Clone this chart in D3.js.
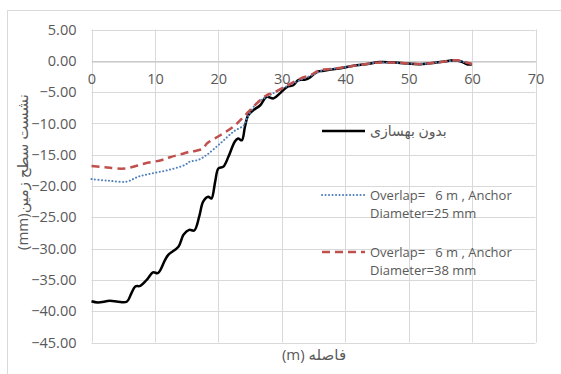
<!DOCTYPE html>
<html>
<head>
<meta charset="utf-8">
<script src="https://cdn.jsdelivr.net/npm/d3@7"></script>
<style>
  html, body { margin: 0; padding: 0; background: #fff; }
  svg { display: block; }
  text { font-family: "Open Sans", "DejaVu Sans", sans-serif; fill: #595959; white-space: pre; }
</style>
</head>
<body>
<svg id="chart" width="561" height="374"></svg>
<script>
// Settlement profiles: distance from wall (m) vs. ground surface settlement (mm)
const noImproveX = [0, 1, 2.9, 4.2, 5.6, 6.3, 6.9, 7.7, 8.7, 9.7, 10.5, 11.6, 12.1, 13.7, 14.5, 15.4, 16.2, 17.0, 17.6, 18.4, 18.9, 19.5, 20.0, 20.8, 21.6, 22.6, 23.1, 23.7, 24.2, 24.7, 25.5, 26.6, 27.6, 28.7, 29.7, 30.8, 31.8, 32.6, 33.7, 34.5, 35.5, 36.6, 38.1, 39.7, 41.8, 43.5, 45.5, 48.7, 51.8, 55, 57.3, 58.4, 59.2, 60];
const noImproveY = [-38.4, -38.6, -38.35, -38.5, -38.45, -37.1, -36.05, -35.95, -35.0, -33.8, -33.9, -31.8, -31.0, -29.7, -27.8, -27.0, -27.1, -24.8, -22.5, -21.7, -22.0, -19.3, -17.2, -16.9, -15.3, -12.9, -12.4, -12.7, -10.5, -8.7, -7.9, -7.1, -5.75, -6.0, -5.2, -4.2, -3.9, -3.1, -3.0, -2.6, -1.8, -1.6, -1.35, -1.1, -0.7, -0.5, -0.2, -0.35, -0.55, -0.2, 0.1, -0.15, -0.55, -0.55];

const d25X = [0, 2.65, 5.55, 7.4, 9.5, 12.1, 14.7, 15.5, 16.8, 18.2, 20.3, 22.4, 24, 24.6, 26, 27.6, 29, 30.5, 32, 33.5, 35, 36.5, 38, 40, 42, 45, 48, 52, 55, 57.5, 58.5, 60];
const d25Y = [-18.9, -19.15, -19.3, -18.5, -18.0, -17.45, -16.65, -16.1, -15.85, -15.0, -13.2, -11.3, -10.3, -9.0, -6.8, -5.75, -5.0, -4.2, -3.5, -2.8, -2.2, -1.5, -1.3, -1.0, -0.7, -0.3, -0.35, -0.5, -0.2, 0.0, -0.15, -0.5];

const d38X = [0, 2.1, 5.3, 8.4, 11.1, 12.4, 14.2, 15.5, 16.3, 17.6, 18.2, 20.3, 22.4, 24, 25.5, 27.6, 28.5, 30, 31.5, 33, 34.5, 36, 38, 40, 42, 45, 48, 52, 55, 57.5, 58.5, 60];
const d38Y = [-16.8, -17.0, -17.2, -16.4, -15.85, -15.4, -14.9, -14.5, -14.4, -14.0, -13.2, -11.9, -10.5, -8.95, -7.35, -5.5, -5.2, -4.4, -3.6, -2.8, -2.3, -1.5, -1.3, -1.0, -0.7, -0.3, -0.3, -0.5, -0.2, 0.1, -0.1, -0.5];

const xTicks = [0, 10, 20, 30, 40, 50, 60, 70];
const yTicks = [5, 0, -5, -10, -15, -20, -25, -30, -35, -40, -45];

const seriesNames = [
  ["بدون بهسازی"],
  ["Overlap=   6 m , Anchor", "Diameter=25 mm"],
  ["Overlap=   6 m , Anchor", "Diameter=38 mm"]
];
const xTitle = "(m) فاصله";
const yTitle = "(mm)نشست سطح زمین";

const series = [
  { name: seriesNames[0], xs: noImproveX, ys: noImproveY, color: "#000000", width: 2.5, dash: null, cap: "butt" },
  { name: seriesNames[1], xs: d25X, ys: d25Y, color: "#4f81bd", width: 2, dash: "0.1 3.4", cap: "round" },
  { name: seriesNames[2], xs: d38X, ys: d38Y, color: "#c0504d", width: 2.5, dash: "8 5", cap: "butt" }
];

const svg = d3.select("#chart");

// chart area border
svg.append("rect")
  .attr("x", 7.5).attr("y", 10.5)
  .attr("width", 560).attr("height", 370)
  .attr("fill", "#fff").attr("stroke", "#d9d9d9").attr("stroke-width", 1);

const x = d3.scaleLinear().domain([0, 70]).range([91.5, 535.5]);
const y = d3.scaleLinear().domain([5, -45]).range([29.5, 342.5]);

// gridlines
const grid = svg.append("g");
grid.selectAll("line.h").data(yTicks).join("line")
  .attr("x1", x(0)).attr("x2", x(70))
  .attr("y1", d => Math.round(y(d)) + 0.5).attr("y2", d => Math.round(y(d)) + 0.5)
  .attr("stroke", "#d9d9d9").attr("stroke-width", 1);
grid.selectAll("line.v").data(xTicks).join("line")
  .attr("x1", d => Math.round(x(d)) + 0.5).attr("x2", d => Math.round(x(d)) + 0.5)
  .attr("y1", y(5)).attr("y2", y(-45))
  .attr("stroke", "#d9d9d9").attr("stroke-width", 1);

// x axis sits on the zero line, labels below it
const xAxis = d3.axisBottom(x).tickValues(xTicks).tickSize(0).tickPadding(12).tickFormat(d3.format("d"));
const gx = svg.append("g").attr("transform", `translate(0,${Math.round(y(0)) + 0.5})`).call(xAxis);
gx.select(".domain").attr("stroke", "#bfbfbf");
gx.selectAll("text").style("font-size", "14.5px").attr("fill", "#595959");

// y axis labels
const yAxis = d3.axisLeft(y).tickValues(yTicks).tickSize(0).tickPadding(15).tickFormat(d3.format(".2f"));
const gy = svg.append("g").attr("transform", `translate(${x(0)},0)`).call(yAxis);
gy.select(".domain").remove();
gy.selectAll("text").style("font-size", "14.5px").attr("fill", "#595959");

// series lines
const line = d3.line().x(d => x(d[0])).y(d => y(d[1])).curve(d3.curveCatmullRom.alpha(0.5));
series.forEach(s => {
  const pts = s.xs.map((v, i) => [v, s.ys[i]]);
  svg.append("path").datum(pts)
    .attr("d", line)
    .attr("fill", "none")
    .attr("stroke", s.color)
    .attr("stroke-width", s.width)
    .attr("stroke-linecap", s.cap)
    .attr("stroke-linejoin", "round")
    .attr("stroke-dasharray", s.dash);
});

// legend
const legendRows = [131, 195, 252];
const leg = svg.append("g");
series.forEach((s, i) => {
  const ly = legendRows[i];
  leg.append("line")
    .attr("x1", 322).attr("x2", 365).attr("y1", ly).attr("y2", ly)
    .attr("stroke", s.color).attr("stroke-width", s.width)
    .attr("stroke-linecap", s.cap).attr("stroke-dasharray", s.dash);
  s.name.forEach((t, j) => {
    leg.append("text")
      .attr("x", 370).attr("y", ly + j * 18 + 5)
      .style("font-size", i === 0 ? "14px" : "13px")
      .text(t);
  });
});

// axis titles
svg.append("text")
  .attr("x", 314).attr("y", 360)
  .attr("text-anchor", "middle")
  .style("font-size", "15px")
  .text(xTitle);

svg.append("text")
  .attr("transform", "translate(28,172) rotate(-90)")
  .attr("text-anchor", "middle")
  .style("font-size", "15px")
  .text(yTitle);
</script>
</body>
</html>
